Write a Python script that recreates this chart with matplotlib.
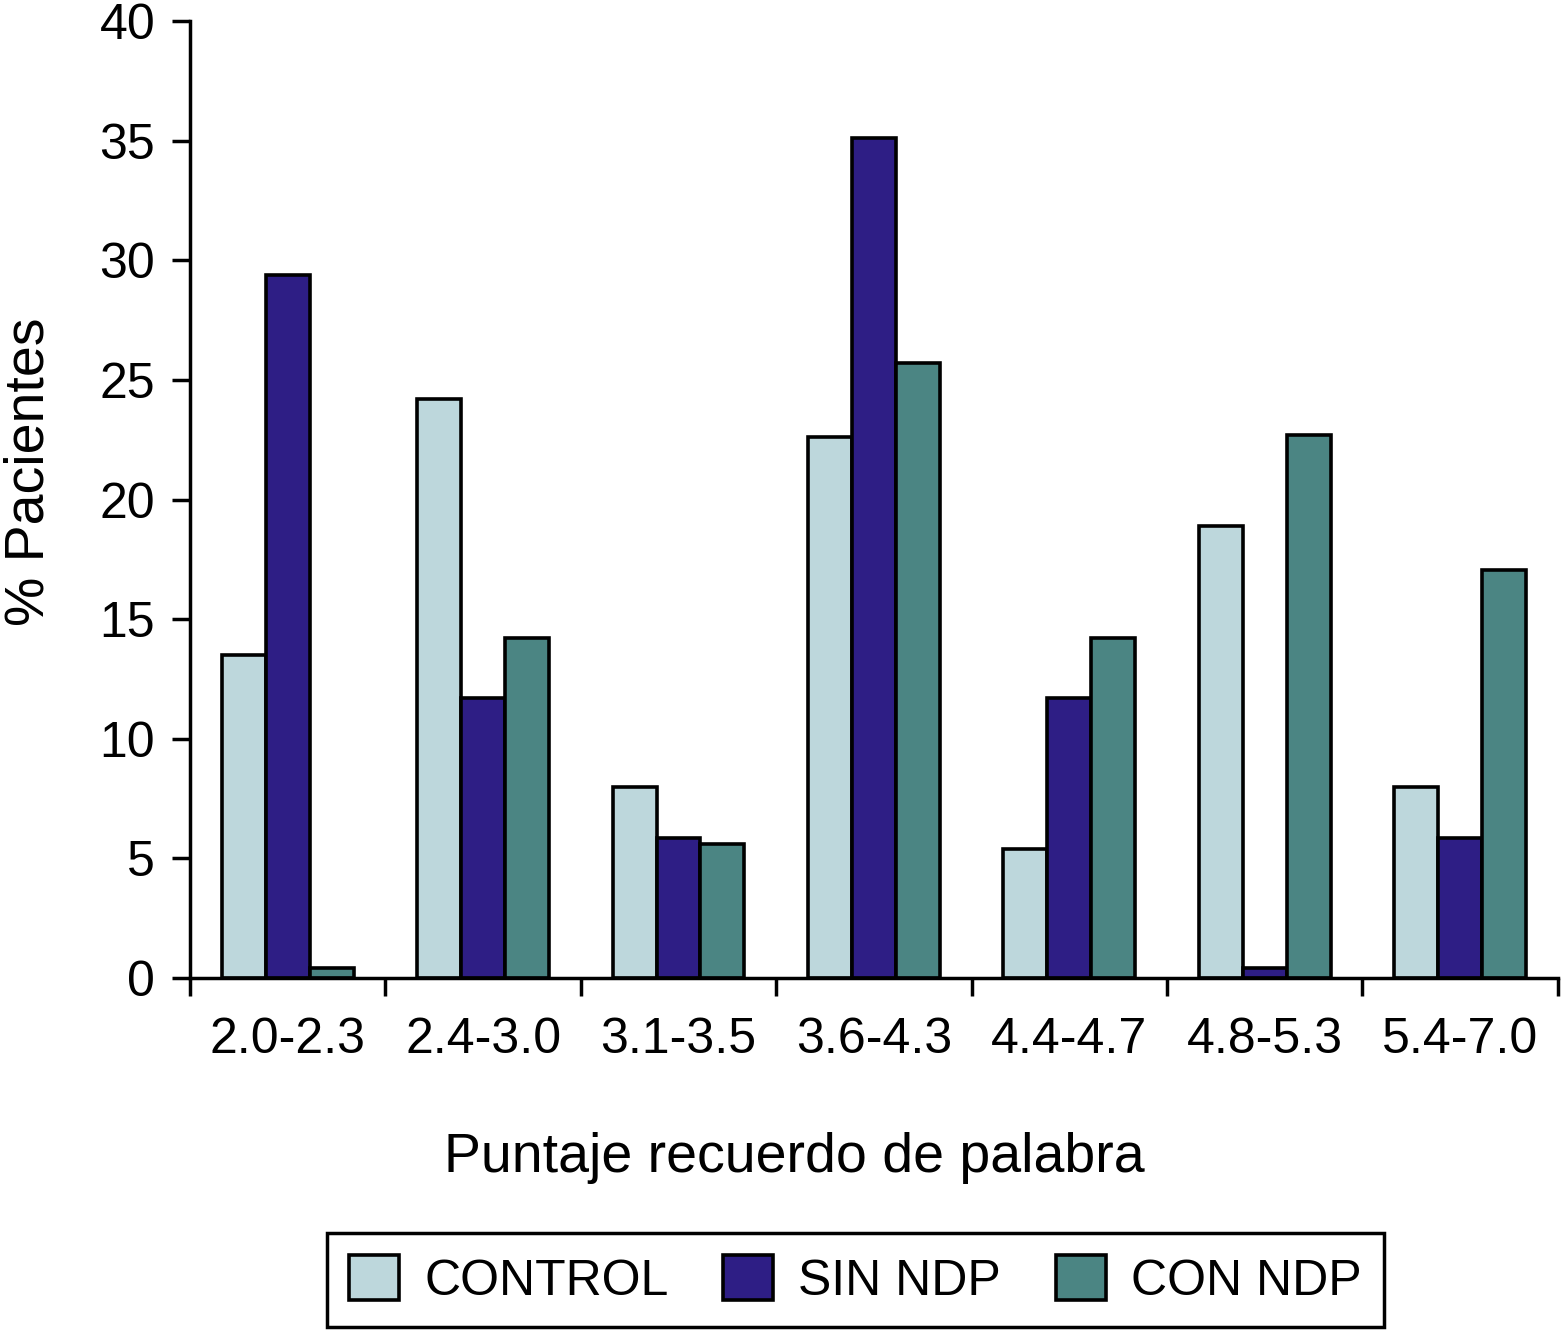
import numpy as np
import matplotlib
matplotlib.use('Agg')
import matplotlib.pyplot as plt

plt.rcParams['font.family'] = ['Liberation Sans', 'DejaVu Sans']

categorias = ['2.0-2.3', '2.4-3.0', '3.1-3.5', '3.6-4.3', '4.4-4.7', '4.8-5.3', '5.4-7.0']
control = [13.5, 24.2, 8.0, 22.6, 5.4, 18.9, 8.0]
sin_ndp = [29.4, 11.7, 5.85, 35.1, 11.7, 0.4, 5.85]
con_ndp = [0.4, 14.2, 5.6, 25.7, 14.2, 22.7, 17.05]

fig = plt.figure(figsize=(15.61, 13.32), dpi=100)
ax = fig.add_axes([0.1217, 0.2658, 0.8763, 0.7184])

x = np.arange(len(categorias))
w = 0.225
ax.bar(x - w, control, w, color='#bdd7dc', edgecolor='black', linewidth=2.6, label='CONTROL')
ax.bar(x, sin_ndp, w, color='#2e1e85', edgecolor='black', linewidth=2.6, label='SIN NDP')
ax.bar(x + w, con_ndp, w, color='#4b8583', edgecolor='black', linewidth=2.6, label='CON NDP')

ax.set_xlim(-0.5, len(categorias) - 0.5)
ax.set_ylim(0, 40)
ax.set_yticks(range(0, 41, 5))
ax.set_xticks(np.arange(-0.5, len(categorias), 1))
ax.set_xticklabels([])
ax.set_xticks(x, minor=True)
ax.set_xticklabels(categorias, minor=True)

for s in ['top', 'right']:
    ax.spines[s].set_visible(False)
for s in ['left', 'bottom']:
    ax.spines[s].set_linewidth(2.5)

ax.tick_params(axis='both', which='major', length=13, width=2.5, labelsize=36)
ax.tick_params(axis='y', pad=12)
ax.tick_params(axis='x', which='minor', length=0, pad=28, labelsize=36)

fig.text(0.019, 0.646, '% Pacientes', rotation=90, fontsize=40, ha='center', va='center')
fig.text(0.509, 0.1306, 'Puntaje recuerdo de palabra', fontsize=40, ha='center', va='center')

leg = fig.legend(loc='center', bbox_to_anchor=(0.548, 0.039), ncol=3, fontsize=36,
                 frameon=True, fancybox=False, edgecolor='black', framealpha=1,
                 handlelength=1.0, handleheight=1.0, handletextpad=0.5,
                 columnspacing=1.1, borderpad=0.45)
leg.get_frame().set_linewidth(2.5)

plt.savefig('out.png', dpi=100)
